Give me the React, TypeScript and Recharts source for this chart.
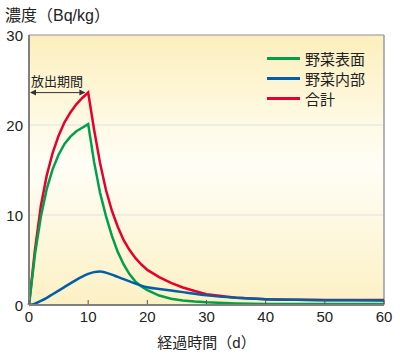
import { LineChart, Line, XAxis, YAxis, CartesianGrid, Legend, ReferenceLine } from "recharts";

const FONT = "'Liberation Sans', 'Noto Sans CJK JP', sans-serif";

// 経過時間 (d)
const days = [0, 1, 2, 3, 4, 5, 6, 7, 8, 9, 10, 11, 12, 13, 14, 15, 16, 17, 18, 19, 20, 22, 24, 26, 28, 30, 35, 40, 45, 50, 55, 60];
// 濃度 (Bq/kg)
const surface = [0, 5.6, 9.8, 12.9, 15.1, 16.7, 17.9, 18.7, 19.3, 19.7, 20.1, 15.9, 12.5, 9.9, 7.7, 5.9, 4.5, 3.4, 2.6, 2.05, 1.65, 1.05, 0.7, 0.5, 0.38, 0.3, 0.18, 0.12, 0.1, 0.1, 0.1, 0.1];
const inner = [0, 0.15, 0.45, 0.8, 1.2, 1.6, 2.0, 2.4, 2.8, 3.15, 3.45, 3.65, 3.72, 3.6, 3.38, 3.12, 2.87, 2.62, 2.38, 2.15, 1.97, 1.78, 1.6, 1.43, 1.24, 1.07, 0.8, 0.65, 0.58, 0.54, 0.52, 0.5];
const total = [0, 6.1, 11.0, 14.4, 16.9, 18.8, 20.3, 21.4, 22.3, 23.0, 23.6, 19.5, 15.8, 12.8, 10.5, 8.7, 7.2, 6.1, 5.2, 4.5, 3.9, 3.1, 2.45, 1.95, 1.55, 1.2, 0.8, 0.65, 0.58, 0.55, 0.55, 0.55];

const xTicks = [0, 10, 20, 30, 40, 50, 60];
const yTicks = [0, 10, 20, 30];

const legendItems = [
  { name: "野菜表面", color: "#00a04b" },
  { name: "野菜内部", color: "#005eab" },
  { name: "合計", color: "#e5002d" },
];

const releaseStart = 0;
const releaseEnd = 9.7;
const releaseLevel = 23.6;

const data = days.map((d, i) => ({ d, surface: surface[i], inner: inner[i], total: total[i] }));

function XTick({ x, y, payload }: any) {
  return (
    <g>
      <line x1={x} y1={y - 1} x2={x} y2={y - 5} stroke="#555" strokeWidth={1} />
      <text x={x} y={y + 17} textAnchor="middle" fontSize={15} fill="#222" fontFamily={FONT}>
        {payload.value}
      </text>
    </g>
  );
}

function YTick({ x, y, payload }: any) {
  return (
    <text x={x} y={y + 5.5} textAnchor="end" fontSize={15} fill="#222" fontFamily={FONT}>
      {payload.value}
    </text>
  );
}

function ReleaseArrow({ x1, y1, x2 }: any) {
  const c = "#333";
  return (
    <g>
      <line x1={x1 + 2} y1={y1} x2={x2 - 2} y2={y1} stroke={c} strokeWidth={1} />
      <path d={`M${x1 + 1},${y1} L${x1 + 7},${y1 - 3} L${x1 + 7},${y1 + 3} Z`} fill={c} />
      <path d={`M${x2 - 1},${y1} L${x2 - 7},${y1 - 3} L${x2 - 7},${y1 + 3} Z`} fill={c} />
      <text x={x1 + 2} y={y1 - 7} fontSize={13} fill="#222" fontFamily={FONT}>
        放出期間
      </text>
    </g>
  );
}

function LegendBox() {
  return (
    <div style={{ fontFamily: FONT, fontSize: 15, color: "#222" }}>
      {legendItems.map((it) => (
        <div key={it.name} style={{ display: "flex", alignItems: "center", height: 20 }}>
          <span style={{ display: "inline-block", width: 33, height: 2.5, background: it.color, marginRight: 5 }} />
          <span>{it.name}</span>
        </div>
      ))}
    </div>
  );
}

export default function App() {
  return (
    <div style={{ position: "absolute", left: 0, top: 0, width: 400, height: 357, background: "#fff" }}>
      <svg width={0} height={0} style={{ position: "absolute" }}>
        <defs>
          <linearGradient id="bgGrad" x1="0" y1="0" x2="0" y2="1">
            <stop offset="0%" stopColor="#fcefbd" />
            <stop offset="48%" stopColor="#fffef6" />
            <stop offset="100%" stopColor="#fcf0c4" />
          </linearGradient>
        </defs>
      </svg>
      <div style={{ position: "absolute", left: 5, top: 2, fontFamily: FONT, fontSize: 16, color: "#222" }}>
        濃度（Bq/kg）
      </div>
      <LineChart width={400} height={357} data={data} margin={{ top: 35, right: 16, bottom: 0, left: 0 }}>
        <CartesianGrid vertical={false} stroke="#e0e0e0" fill="url(#bgGrad)" fillOpacity={1} />
        <XAxis
          dataKey="d"
          type="number"
          domain={[0, 60]}
          ticks={xTicks}
          height={52}
          tickSize={0}
          tickMargin={0}
          tickLine={false}
          tick={<XTick />}
          axisLine={{ stroke: "#808080", strokeWidth: 2 }}
          label={{ value: "経過時間（d）", position: "insideBottom", offset: 9, fill: "#222", fontSize: 15, fontFamily: FONT }}
        />
        <YAxis
          type="number"
          domain={[0, 30]}
          ticks={yTicks}
          width={29}
          tickSize={0}
          tickMargin={6}
          tickLine={false}
          tick={<YTick />}
          axisLine={{ stroke: "#808080", strokeWidth: 2 }}
        />
        <ReferenceLine y={30} stroke="#9a9a9a" strokeWidth={1} />
        <ReferenceLine x={60} stroke="#9a9a9a" strokeWidth={1.5} />
        <ReferenceLine
          segment={[{ x: releaseStart, y: releaseLevel }, { x: releaseEnd, y: releaseLevel }]}
          shape={(p: any) => <ReleaseArrow {...p} />}
        />
        <Line dataKey="total" name="合計" type="linear" stroke="#e5002d" strokeWidth={2.5} dot={false} isAnimationActive={false} />
        <Line dataKey="surface" name="野菜表面" type="linear" stroke="#00a04b" strokeWidth={2.5} dot={false} isAnimationActive={false} />
        <Line dataKey="inner" name="野菜内部" type="monotone" stroke="#005eab" strokeWidth={2.5} dot={false} isAnimationActive={false} />
        <Legend
          layout="vertical"
          align="center"
          verticalAlign="middle"
          content={() => <LegendBox />}
          wrapperStyle={{ left: 267, top: 48.5, width: 120, height: 60 }}
        />
      </LineChart>
    </div>
  );
}
